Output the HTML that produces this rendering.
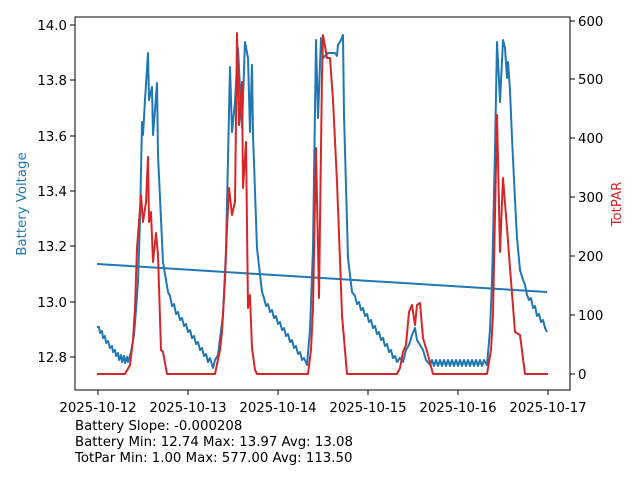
<!DOCTYPE html>
<html><head><style>body{margin:0;background:#fff}</style></head><body>
<svg width="640" height="480" xmlns="http://www.w3.org/2000/svg" font-family="DejaVu Sans, sans-serif">
<rect width="640" height="480" fill="#fff"/>
<g fill="none" stroke-width="2" stroke-linejoin="round">
<polyline stroke="#1f77b4" points="97,264 547,292"/>
<polyline stroke="#1f77b4" points="97,327 99,327 100,333 102,331 103,338 105,336 106,343 108,341 110,348 112,346 113,352 115,350 116,356 118,353 119,360 121,355 122,362 124,356 125,363 127,357 128,362 131,352 134,335 136,310 138,282 140,220 142,122 143,135 145,100 148,53 149,100 152,87 153,135 155,110 157,83 158,155 163,262 168,292 170,296 172,306 174,304 176,314 178,312 180,320 182,318 184,326 186,324 188,332 190,330 192,338 194,336 196,344 198,342 200,350 202,348 204,356 206,354 208,362 210,358 213,368 215,360 218,355 223,315 226,250 230,67 232,132 235,102 238,48 242,128 245,42 248,58 250,132 252,65 253,135 257,248 262,292 264,298 266,306 268,304 270,312 272,310 274,318 276,316 278,324 280,322 282,330 284,328 286,336 288,334 290,342 292,340 294,348 296,346 298,354 300,352 302,360 304,358 307,365 310,330 313,248 316,40 318,118 321,38 323,58 328,53 335,53 337,56 338,45 341,40 343,35 344,115 348,258 352,292 355,296 357,304 359,302 361,310 363,308 365,316 367,314 369,322 371,320 373,328 375,326 377,334 379,332 381,340 383,338 385,346 387,344 389,352 391,350 393,358 395,356 397,362 400,358 403,362 406,350 409,345 412,335 415,328 417,340 420,345 423,350 426,360 430,365 432,360 434,366 436,360 438,366 440,360 442,366 444,360 446,366 448,360 450,366 452,360 454,366 456,360 458,366 460,360 462,366 464,360 466,366 468,360 470,366 472,360 474,366 476,360 478,366 480,360 482,366 484,360 487,365 490,330 492,282 495,150 497,42 499,80 500,102 503,40 505,48 507,78 508,62 510,90 512,138 515,200 517,238 520,270 523,280 525,285 527,295 529,300 531,298 533,308 535,306 537,316 539,314 541,322 543,320 545,328 547,332"/>
<polyline stroke="#d62728" points="97,374 125,374 130,365 133,340 135,308 137,248 139,222 141,195 143,222 146,202 148,157 149,222 151,212 153,262 156,233 158,255 161,350 163,352 167,374 215,374 220,350 222,332 225,280 227,228 229,188 232,215 235,202 237,33 239,125 242,82 243,188 246,142 248,308 250,295 252,348 255,370 257,374 308,374 311,350 313,308 316,148 319,298 322,75 323,35 327,58 330,58 333,100 337,182 340,260 342,315 347,374 397,374 400,368 403,352 406,345 409,312 412,305 415,325 417,305 420,303 423,338 428,355 433,374 487,374 491,350 493,315 497,115 500,252 503,178 507,228 510,268 515,332 520,335 525,374 548,374"/>
</g>
<rect x="75" y="17" width="495" height="373" fill="none" stroke="#000" stroke-width="1"/>
<g stroke="#000" stroke-width="1">
<line x1="98" y1="390" x2="98" y2="395"/><line x1="188" y1="390" x2="188" y2="395"/><line x1="278" y1="390" x2="278" y2="395"/><line x1="368" y1="390" x2="368" y2="395"/><line x1="458" y1="390" x2="458" y2="395"/><line x1="548" y1="390" x2="548" y2="395"/>
<line x1="70" y1="357" x2="75" y2="357"/><line x1="70" y1="302" x2="75" y2="302"/><line x1="70" y1="246" x2="75" y2="246"/><line x1="70" y1="191" x2="75" y2="191"/><line x1="70" y1="136" x2="75" y2="136"/><line x1="70" y1="80" x2="75" y2="80"/><line x1="70" y1="25" x2="75" y2="25"/>
<line x1="570" y1="374" x2="575" y2="374"/><line x1="570" y1="315" x2="575" y2="315"/><line x1="570" y1="256" x2="575" y2="256"/><line x1="570" y1="197" x2="575" y2="197"/><line x1="570" y1="138" x2="575" y2="138"/><line x1="570" y1="79" x2="575" y2="79"/><line x1="570" y1="21" x2="575" y2="21"/>
</g>
<g font-size="13.3" fill="#000">
<g text-anchor="middle">
<text x="98" y="412">2025-10-12</text><text x="188" y="412">2025-10-13</text><text x="278" y="412">2025-10-14</text><text x="368" y="412">2025-10-15</text><text x="458" y="412">2025-10-16</text><text x="548" y="412">2025-10-17</text>
</g>
<g text-anchor="end">
<text x="67" y="362">12.8</text><text x="67" y="307">13.0</text><text x="67" y="251">13.2</text><text x="67" y="196">13.4</text><text x="67" y="141">13.6</text><text x="67" y="85">13.8</text><text x="67" y="30">14.0</text>
</g>
<g text-anchor="start">
<text x="578" y="379">0</text><text x="578" y="320">100</text><text x="578" y="261">200</text><text x="578" y="202">300</text><text x="578" y="143">400</text><text x="578" y="84">500</text><text x="578" y="26">600</text>
</g>
<text x="26" y="204" fill="#1f77b4" text-anchor="middle" transform="rotate(-90 26 204)">Battery Voltage</text>
<text x="621" y="204" fill="#d62728" text-anchor="middle" transform="rotate(-90 621 204)">TotPAR</text>
<text x="75" y="430">Battery Slope: -0.000208</text>
<text x="75" y="446">Battery Min: 12.74 Max: 13.97 Avg: 13.08</text>
<text x="75" y="462">TotPar Min: 1.00 Max: 577.00 Avg: 113.50</text>
</g>
</svg>
</body></html>
